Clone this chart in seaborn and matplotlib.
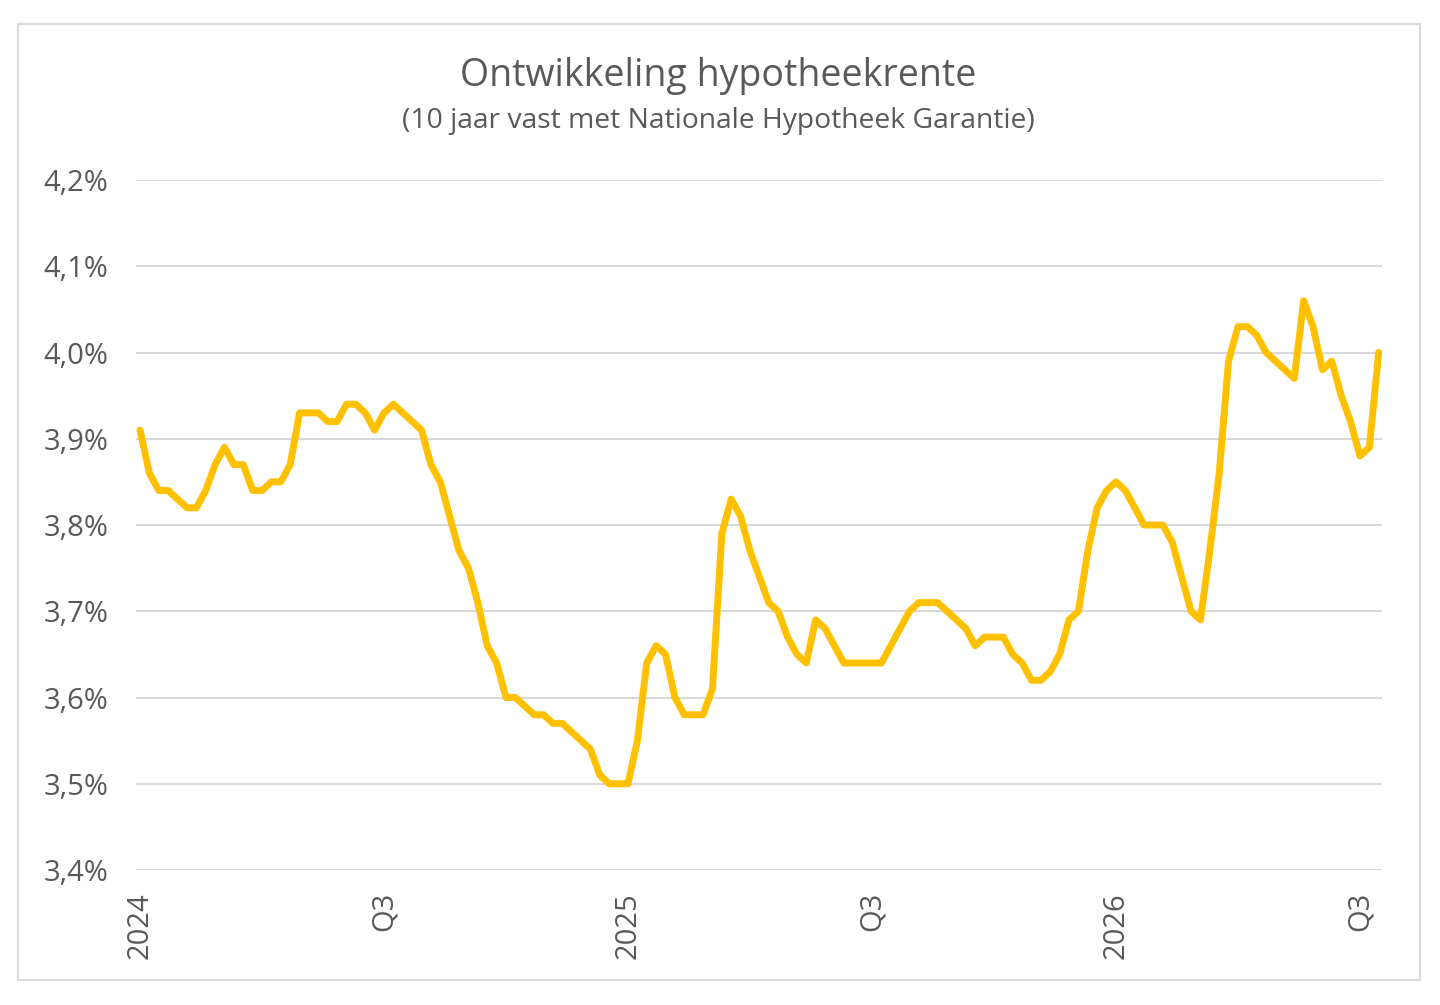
import numpy as np
import pandas as pd
import matplotlib
matplotlib.use("Agg")
import matplotlib.pyplot as plt
import seaborn as sns
from matplotlib.patches import Rectangle
from matplotlib.ticker import FuncFormatter

# ---- data (weekly observations, percent) ----
rente = [
    3.91, 3.86, 3.84, 3.84, 3.83, 3.82, 3.82, 3.84, 3.87, 3.89,
    3.87, 3.87, 3.84, 3.84, 3.85, 3.85, 3.87, 3.93, 3.93, 3.93,
    3.92, 3.92, 3.94, 3.94, 3.93, 3.91, 3.93, 3.94, 3.93, 3.92,
    3.91, 3.87, 3.85, 3.81, 3.77, 3.75, 3.71, 3.66, 3.64, 3.60,
    3.60, 3.59, 3.58, 3.58, 3.57, 3.57, 3.56, 3.55, 3.54, 3.51,
    3.50, 3.50, 3.50, 3.55, 3.64, 3.66, 3.65, 3.60, 3.58, 3.58,
    3.58, 3.61, 3.79, 3.83, 3.81, 3.77, 3.74, 3.71, 3.70, 3.67,
    3.65, 3.64, 3.69, 3.68, 3.66, 3.64, 3.64, 3.64, 3.64, 3.64,
    3.66, 3.68, 3.70, 3.71, 3.71, 3.71, 3.70, 3.69, 3.68, 3.66,
    3.67, 3.67, 3.67, 3.65, 3.64, 3.62, 3.62, 3.63, 3.65, 3.69,
    3.70, 3.77, 3.82, 3.84, 3.85, 3.84, 3.82, 3.80, 3.80, 3.80,
    3.78, 3.74, 3.70, 3.69, 3.77, 3.86, 3.99, 4.03, 4.03, 4.02,
    4.00, 3.99, 3.98, 3.97, 4.06, 4.03, 3.98, 3.99, 3.95, 3.92,
    3.88, 3.89, 4.00,
]
weeks = list(range(len(rente)))
tick_labels = ["2024", "Q3", "2025", "Q3", "2026", "Q3"]
weeks_per_tick = 26
y_ticks = [3.4, 3.5, 3.6, 3.7, 3.8, 3.9, 4.0, 4.1, 4.2]

title = "Ontwikkeling hypotheekrente"
subtitle = "(10 jaar vast met Nationale Hypotheek Garantie)"

df = pd.DataFrame({"week": weeks, "rente": rente})

sns.set_theme(style="white")
plt.rcParams["font.family"] = ["Open Sans", "DejaVu Sans"]

W, H = 1440, 1005
fig = plt.figure(figsize=(W / 100, H / 100), dpi=100)
fig.patch.set_facecolor("white")

# outer light border
fig.patches.append(Rectangle((18 / W, 1 - 980 / H), (1420 - 18) / W, (980 - 24) / H,
                             transform=fig.transFigure, fill=False,
                             edgecolor="#d9d9d9", linewidth=1.5))

ax = fig.add_axes([136 / W, 1 - 870 / H, (1382 - 136) / W, (870 - 180) / H])
sns.lineplot(data=df, x="week", y="rente", ax=ax, color="#FFC000", linewidth=5,
             solid_joinstyle="round", solid_capstyle="round")

ax.set_ylim(3.4, 4.2)
ax.set_yticks(y_ticks)
ax.yaxis.set_major_formatter(FuncFormatter(lambda v, p: f"{v:.1f}%".replace(".", ",")))
ax.set_xlim(-0.43, 132.35)
ax.set_xticks([i * weeks_per_tick for i in range(len(tick_labels))])
ax.set_xticklabels(tick_labels, rotation=90, va="top", ha="center")
ax.grid(axis="y", color="#d9d9d9", linewidth=1.5)
ax.set_axisbelow(True)
for s in ax.spines.values():
    s.set_visible(False)
ax.tick_params(axis="both", length=0, labelsize=21, colors="#595959")
ax.tick_params(axis="y", pad=20)
ax.tick_params(axis="x", pad=16)
ax.set_xlabel("")
ax.set_ylabel("")

fig.text(718 / W, 1 - 76 / H, title, ha="center", va="center", fontsize=27, color="#595959")
fig.text(718 / W, 1 - 121 / H, subtitle, ha="center", va="center", fontsize=20.3, color="#595959")

fig.savefig("out.png", dpi=100, facecolor="white")
